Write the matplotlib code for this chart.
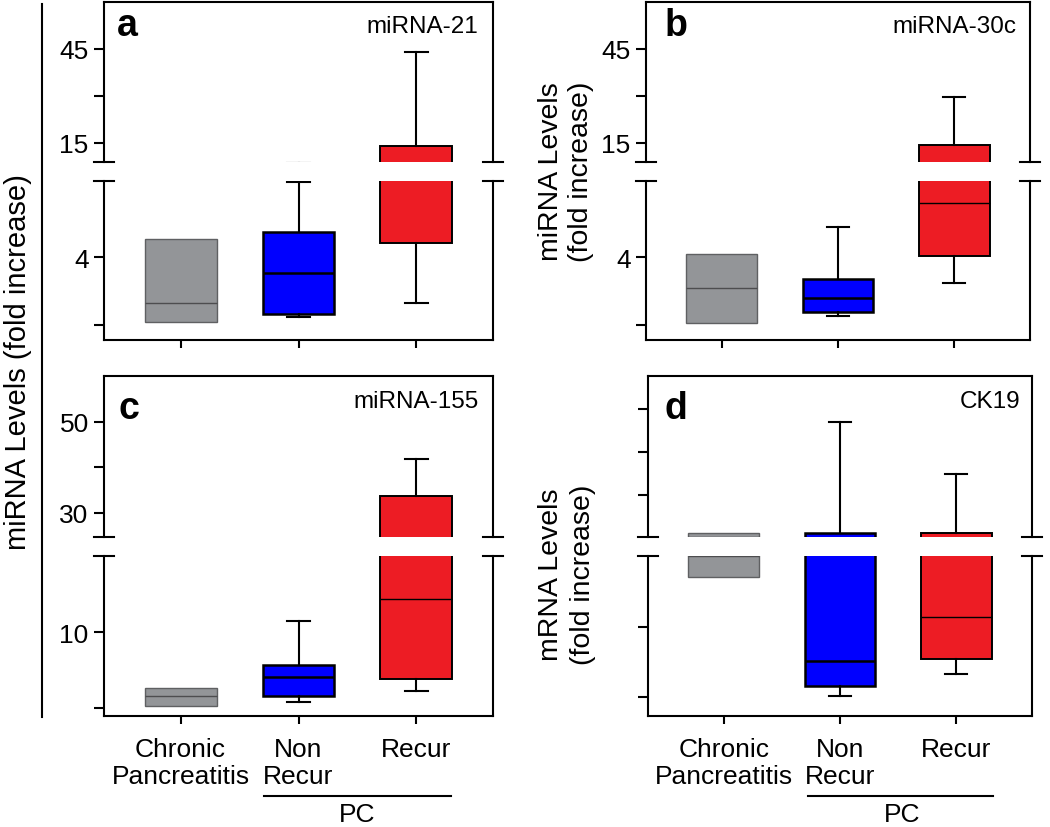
import matplotlib
matplotlib.use('Agg')
import matplotlib.pyplot as plt
from matplotlib.lines import Line2D

plt.rcParams['font.family'] = ['Liberation Sans', 'DejaVu Sans']

W, H = 1050, 828

categories = ['Chronic\nPancreatitis', 'Non\nRecur', 'Recur']

# box stats per panel: [chronic, non recur, recur]
a_q1 = [0.18, 0.65, 4.82]
a_med = [1.29, 3.06, 8.7]
a_q3 = [5.06, 5.47, 14.04]
a_lo = [0.18, 0.47, 1.29]
a_hi = [5.06, 8.45, 44.0]

b_q1 = [0.12, 0.76, 4.06]
b_med = [2.18, 1.6, 7.2]
b_q3 = [4.18, 2.7, 14.4]
b_lo = [0.12, 0.53, 2.47]
b_hi = [4.18, 5.8, 29.7]

c_q1 = [0.26, 1.58, 3.82]
c_med = [1.58, 4.08, 14.3]
c_q3 = [2.63, 5.66, 33.7]
c_lo = [0.26, 0.79, 2.24]
c_hi = [2.63, 11.45, 41.8]

d_q1 = [1.71, 0.16, 0.54]
d_med = [2.015, 0.51, 1.14]
d_q3 = [2.12, 2.12, 2.12]
d_lo = [1.71, 0.01, 0.33]
d_hi = [2.12, 4.70, 3.49]

# axis segments (broken axis): lower / upper limits and ticks
a_lim = [(-0.9, 8.5), (8.9, 60)]
a_ticks = [[0, 4], [15, 30, 45]]
a_labels = [['', '4'], ['15', '', '45']]
c_lim = [(-1.05, 20), (24.7, 60.1)]
c_ticks = [[0, 10], [30, 40, 50]]
c_labels = [['', '10'], ['30', '', '50']]
d_lim = [(-0.27, 2.01), (2.02, 5.77)]
d_ticks = [[0, 1], [3, 4, 5]]
d_labels = [['', ''], ['', '', '']]

fills = ['#939598', '#0000ff', '#ed1c24']
edges = ['#5f6062', 'black', 'black']
edge_w = [1.0, 1.8, 1.4]
med_c = ['#4d4d4f', 'black', 'black']
med_w = [1.0, 1.8, 1.0]

fig = plt.figure(figsize=(W / 100, H / 100), dpi=100)


def px_axes(x0, y0, x1, y1):
    return fig.add_axes([x0 / W, 1 - y1 / H, (x1 - x0) / W, (y1 - y0) / H])


def ftext(x, y, s, **kw):
    fig.text(x / W, 1 - y / H, s, **kw)


def fline(xs, ys, lw=1.5):
    fig.add_artist(Line2D([x / W for x in xs], [1 - y / H for y in ys],
                          color='black', lw=lw, transform=fig.transFigure))


def panel(x0, x1, ytop, ybreak1, ybreak2, ybot, q1, med, q3, lo, hi,
          lims, ticks, labels, show_xlabels):
    stats = []
    for i in range(3):
        stats.append(dict(q1=q1[i], med=med[i], q3=q3[i], whislo=lo[i],
                          whishi=hi[i], fliers=[]))
    ax_lo = px_axes(x0, ybreak2, x1, ybot)
    ax_hi = px_axes(x0, ytop, x1, ybreak1)
    for k, ax in enumerate([ax_lo, ax_hi]):
        res = ax.bxp(stats, positions=[1, 2, 3], widths=0.61, capwidths=0.19,
                     patch_artist=True, showfliers=False, manage_ticks=False)
        for i in range(3):
            res['boxes'][i].set_facecolor(fills[i])
            res['boxes'][i].set_edgecolor(edges[i])
            res['boxes'][i].set_linewidth(edge_w[i])
            res['medians'][i].set_color(med_c[i])
            res['medians'][i].set_linewidth(med_w[i])
            for j in (2 * i, 2 * i + 1):
                res['whiskers'][j].set_linewidth(1.5)
                res['caps'][j].set_linewidth(1.5)
                if lo[i] == q1[i] and hi[i] == q3[i]:
                    res['whiskers'][j].set_visible(False)
                    res['caps'][j].set_visible(False)
        ax.set_xlim(0.35, 3.65)
        ax.set_ylim(*lims[k])
        ax.set_yticks(ticks[k])
        ax.set_yticklabels(labels[k], fontsize=19)
        ax.tick_params(axis='y', direction='out', length=7, width=1.5, pad=4)
        for s in ax.spines.values():
            s.set_linewidth(1.5)
    ax_hi.spines['bottom'].set_visible(False)
    ax_lo.spines['top'].set_visible(False)
    ax_hi.set_xticks([])
    ax_lo.set_xticks([1, 2, 3])
    ax_lo.tick_params(axis='x', direction='out', length=6, width=1.5, pad=9)
    if show_xlabels:
        ax_lo.set_xticklabels(categories, fontsize=19, linespacing=1.15, va='top')
    else:
        ax_lo.set_xticklabels([])
    # break marks
    for xs in (x0, x1):
        for yb in (ybreak1, ybreak2):
            fline([xs - 10, xs + 10], [yb, yb])
    return ax_lo, ax_hi


panel(104, 493, 3, 163, 182, 341, a_q1, a_med, a_q3, a_lo, a_hi,
      a_lim, a_ticks, a_labels, False)
panel(646, 1030, 3, 163, 182, 341, b_q1, b_med, b_q3, b_lo, b_hi,
      a_lim, a_ticks, a_labels, False)
panel(104, 493, 377, 538, 557, 717, c_q1, c_med, c_q3, c_lo, c_hi,
      c_lim, c_ticks, c_labels, True)
panel(648, 1032, 377, 538, 557, 717, d_q1, d_med, d_q3, d_lo, d_hi,
      d_lim, d_ticks, d_labels, True)

# panel letters and gene names
ftext(117, 36, 'a', fontsize=27, fontweight='bold')
ftext(665, 36, 'b', fontsize=27, fontweight='bold')
ftext(119, 419, 'c', fontsize=27, fontweight='bold')
ftext(664, 419, 'd', fontsize=27, fontweight='bold')
ftext(478, 33, 'miRNA-21', fontsize=17.5, ha='right')
ftext(1016, 33, 'miRNA-30c', fontsize=17.5, ha='right')
ftext(479, 408, 'miRNA-155', fontsize=17.5, ha='right')
ftext(1020, 408, 'CK19', fontsize=17.5, ha='right')

# y labels
ftext(18, 362, 'miRNA Levels (fold increase)', fontsize=21, rotation=90,
      ha='center', va='center')
fline([42, 42], [5, 718])
ftext(566, 172, 'miRNA Levels\n(fold increase)', fontsize=20.5, rotation=90,
      ha='center', va='center', linespacing=1.25)
ftext(567, 575, 'mRNA Levels\n(fold increase)', fontsize=20.5, rotation=90,
      ha='center', va='center', linespacing=1.25)

# PC group brackets
fline([264, 451], [797, 797])
ftext(357, 815, 'PC', fontsize=19, ha='center', va='center')
fline([808, 993], [797, 797])
ftext(902, 815, 'PC', fontsize=19, ha='center', va='center')

fig.savefig('out.png', dpi=100)
